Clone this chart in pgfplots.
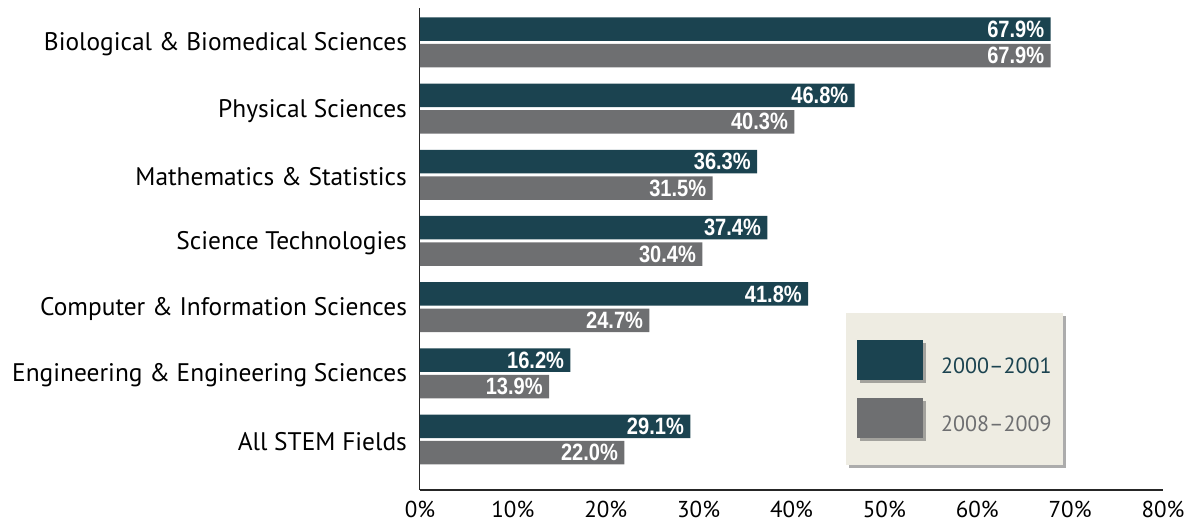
\documentclass[border=0pt]{standalone}
\usepackage{pgfplots}
\pgfplotsset{compat=1.18}
\usepackage{fontspec}
\setmainfont{PT Sans}
\newfontfamily\condfont[FakeStretch=0.85]{Liberation Sans}
\usetikzlibrary{shadows}
\definecolor{darkteal}{HTML}{1B4350}
\definecolor{midgray}{HTML}{6E6F71}
\definecolor{legbg}{HTML}{EEECE2}
\begin{document}
\begin{tikzpicture}
\path[use as bounding box] (-210pt,-16pt) rectangle (389.5pt,245pt);
\begin{axis}[
  at={(0pt,0pt)}, anchor=south west,
  scale only axis, width=371.5pt, height=241pt,
  xbar, xmin=0, xmax=80, ymin=-0.763, ymax=6.52,
  bar width=0.355,
  axis x line*=bottom, axis y line*=left,
  x axis line style={-, line width=1.1pt, color=black!85},
  y axis line style={-, line width=0.5pt, color=black!85},
  xtick={0,10,...,80},
  xticklabel={\pgfmathprintnumber{\tick}\%},
  /pgf/number format/assume math mode=true,
  major tick length=0pt,
  ytick={0,...,6},
  yticklabels={All STEM Fields, Engineering \& Engineering Sciences, Computer \& Information Sciences, Science Technologies, Mathematics \& Statistics, Physical Sciences, Biological \& Biomedical Sciences},
  xticklabel style={font=\fontsize{11.5}{13}\selectfont, yshift=-2pt},
  yticklabel style={font=\fontsize{12.7}{14}\selectfont, xshift=-3pt, yshift=-1pt},
  point meta=x,
  nodes near coords={\pgfmathprintnumber[fixed,fixed zerofill,precision=1]{\pgfplotspointmeta}\%},
  nodes near coords style={anchor=east, font=\condfont\bfseries\fontsize{11.8}{12}\selectfont, text=white, xshift=-3pt, inner sep=0pt},
  legend image code/.code={\fill[#1,draw=none] (0pt,-6pt) rectangle (33pt,14pt);},
  legend style={at={(0.573,0.369)}, anchor=north west, fill=legbg, draw=none,
    drop shadow={shadow xshift=1.5pt, shadow yshift=-1.5pt, fill=black!65},
    inner xsep=5.5pt, inner ysep=13.5pt, row sep=9pt, column sep=9pt,
    nodes={inner sep=0pt}, font=\fontsize{11}{13}\selectfont},
  legend cell align=left,
]
\addplot[fill=darkteal, draw=none, bar shift=0.2] coordinates {(67.9,6) (46.8,5) (36.3,4) (37.4,3) (41.8,2) (16.2,1) (29.1,0)};
\addlegendentry{\textcolor{darkteal}{2000--2001}}
\addplot[fill=midgray, draw=none, bar shift=-0.2] coordinates {(67.9,6) (40.3,5) (31.5,4) (30.4,3) (24.7,2) (13.9,1) (22.0,0)};
\addlegendentry{\textcolor{midgray}{2008--2009}}
\end{axis}
\end{tikzpicture}
\end{document}
